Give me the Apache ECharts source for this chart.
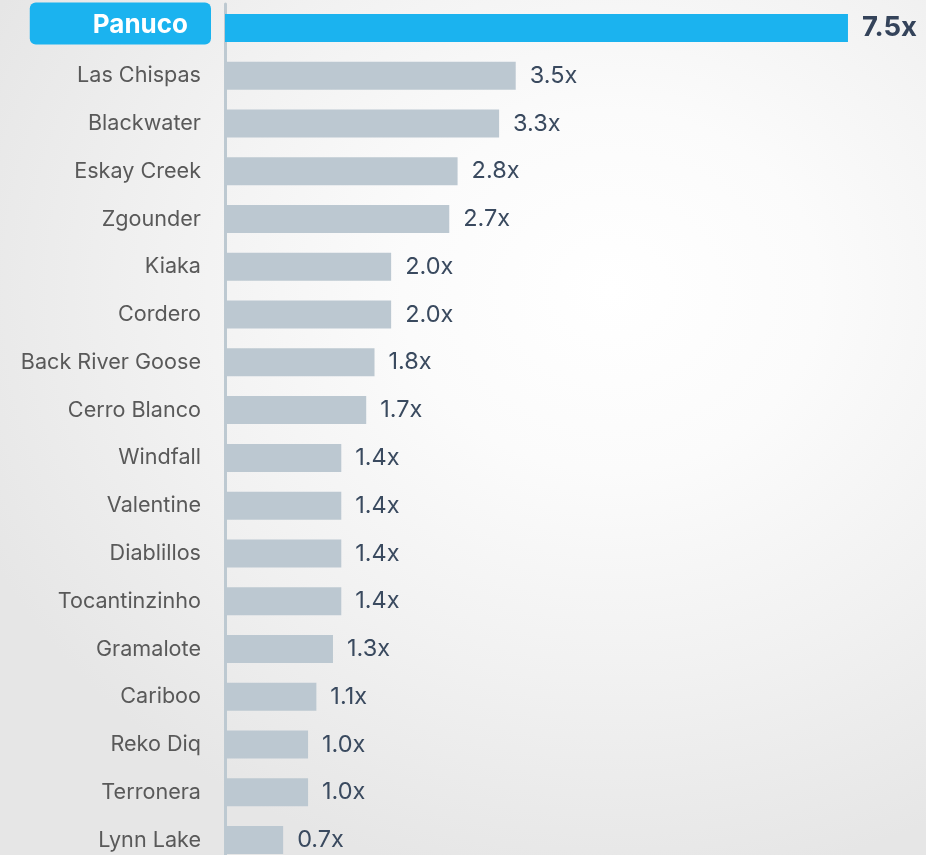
<!DOCTYPE html>
<html>
<head>
<meta charset="utf-8">
<script src="https://cdn.jsdelivr.net/npm/echarts@6/dist/echarts.min.js"></script>
<style>
html,body{margin:0;padding:0;width:926px;height:855px;overflow:hidden;
background: radial-gradient(ellipse 75% 70% at 66% 34%, #ffffff 0%, #fbfbfb 30%, #f1f1f1 65%, #e6e6e6 100%);}
#c{width:926px;height:880px;}
</style>
</head>
<body>
<div id="c"></div>
<script>
const categories = ['Panuco','Las Chispas','Blackwater','Eskay Creek','Zgounder','Kiaka','Cordero','Back River Goose','Cerro Blanco','Windfall','Valentine','Diablillos','Tocantinzinho','Gramalote','Cariboo','Reko Diq','Terronera','Lynn Lake'];
const values = [7.5,3.5,3.3,2.8,2.7,2.0,2.0,1.8,1.7,1.4,1.4,1.4,1.4,1.3,1.1,1.0,1.0,0.7];
const highlight = 'Panuco';

const FONT = 'Inter';
const chart = echarts.init(document.getElementById('c'), null, {renderer:'canvas'});
chart.setOption({
  backgroundColor: 'transparent',
  animation: false,
  grid: {left: 225, top: 4, width: 664.5, height: 860, containLabel: false},
  xAxis: {type:'value', min:0, max:8, show:false},
  yAxis: {
    type:'category', inverse:true, offset: 2,
    data: categories.map(c => c === highlight ? {value:c, textStyle:{padding:[0,0,9,0]}} : c),
    axisLine:{show:true, lineStyle:{color:'#bdc9d1', width:3}},
    axisTick:{show:false}, splitLine:{show:false},
    axisLabel:{
      margin: 12,
      formatter: v => v === highlight ? '{hl|' + v + '}' : '{n|' + v + '}',
      rich: {
        n: {fontFamily: FONT, fontSize: 21.6, color:'#595959', padding:[0,10,0,0]},
        hl: {fontFamily: FONT, fontSize: 26, fontWeight:'bold', color:'#ffffff',
             backgroundColor:'#1bb3ef', borderRadius:6, padding:[10,23,6,63], lineHeight: 25}
      }
    }
  },
  series: [{
    type:'bar', barWidth: 28,
    data: values.map((v,i) => ({
      value: v,
      itemStyle: {color: categories[i] === highlight ? '#1bb3ef' : '#bcc8d1'},
      label: categories[i] === highlight ? {fontSize: 27.5, fontWeight:'bold', color:'#34435a'} : {}
    })),
    label: {show:true, position:'right', distance:14, fontFamily: FONT, fontSize:23.5, color:'#3a4a5f',
      formatter: p => p.value.toFixed(1) + 'x'}
  }]
});
</script>
</body>
</html>
